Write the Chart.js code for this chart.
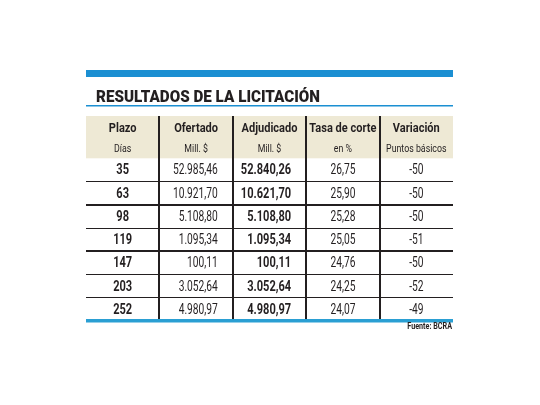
<!DOCTYPE html>
<html lang="es">
<head>
<meta charset="utf-8">
<title>Resultados de la licitación</title>
<script src="https://cdn.jsdelivr.net/npm/chart.js@4.4.1/dist/chart.umd.min.js"></script>
<style>
  html, body { margin: 0; padding: 0; background: #fff; }
  #wrap { width: 540px; height: 405px; }
</style>
</head>
<body>
<div id="wrap"><canvas id="tabla" width="540" height="405"></canvas></div>
<script>
const titulo = 'RESULTADOS DE LA LICITACIÓN';
const fuente = 'Fuente: BCRA';
const columnas = ['Plazo', 'Ofertado', 'Adjudicado', 'Tasa de corte', 'Variación'];
const unidades = ['Días', 'Mill. $', 'Mill. $', 'en %', 'Puntos básicos'];
const plazos = [35, 63, 98, 119, 147, 203, 252];
const ofertado = [52985.46, 10921.70, 5108.80, 1095.34, 100.11, 3052.64, 4980.97];
const adjudicado = [52840.26, 10621.70, 5108.80, 1095.34, 100.11, 3052.64, 4980.97];
const tasaCorte = [26.75, 25.90, 25.28, 25.05, 24.76, 24.25, 24.07];
const variacion = [-50, -50, -50, -51, -50, -52, -49];

const AZUL = '#1b8fd2';
const TINTA = '#231f20';
const BEIGE = '#eee9d5';
const FAM = 'Roboto, "DejaVu Sans Condensed", sans-serif';
const HEADER = 1.82; // alto de la cabecera, en filas

// 52985.46 -> "52.985,46"
function fmt(v, dec) {
  const parts = Math.abs(v).toFixed(dec).split('.');
  const ent = parts[0].replace(/\B(?=(\d{3})+(?!\d))/g, '.');
  return (v < 0 ? '-' : '') + ent + (dec ? ',' + parts[1] : '');
}

// texto estrechado en horizontal (la fuente original es condensada)
function texto(ctx, s, x, y, sx) {
  ctx.save();
  ctx.translate(x, y);
  ctx.scale(sx, 1);
  ctx.fillText(s, 0, 0);
  ctx.restore();
}

const filas = plazos.map((p, i) => [
  String(p),
  fmt(ofertado[i], 2),
  fmt(adjudicado[i], 2),
  fmt(tasaCorte[i], 2),
  String(variacion[i])
]);
const alineacion = ['center', 'right', 'right', 'center', 'center'];
const negrita = [true, false, true, false, false];

const tablaPlugin = {
  id: 'tabla-plugin',
  beforeDraw(chart) {
    const ctx = chart.ctx;
    const { left, right, top } = chart.chartArea;
    const y = chart.scales.y;
    ctx.save();
    ctx.fillStyle = '#fff';
    ctx.fillRect(0, 0, chart.width, chart.height);

    // barra superior
    ctx.fillStyle = AZUL;
    ctx.fillRect(left, top - 46, right - left, 7);

    // titulo
    ctx.fillStyle = TINTA;
    ctx.font = '900 17px ' + FAM;
    ctx.textAlign = 'left';
    ctx.textBaseline = 'alphabetic';
    ctx.fillText(titulo, left + 10, top - 14, 224);

    // linea fina bajo el titulo
    ctx.fillStyle = AZUL;
    ctx.fillRect(left, top - 11, right - left, 1.5);

    // fondo de la cabecera
    ctx.fillStyle = BEIGE;
    const y0 = y.getPixelForValue(-HEADER);
    const y1 = y.getPixelForValue(0);
    ctx.fillRect(left, y0, right - left, y1 - y0);
    ctx.restore();
  },
  afterDraw(chart) {
    const ctx = chart.ctx;
    const x = chart.scales.x;
    const y = chart.scales.y;
    ctx.save();
    ctx.fillStyle = TINTA;

    // cabecera
    ctx.textAlign = 'center';
    ctx.textBaseline = 'alphabetic';
    columnas.forEach((c, col) => {
      const cx = x.getPixelForValue(col + 0.5);
      ctx.font = 'bold 13px ' + FAM;
      texto(ctx, c, cx, y.getPixelForValue(-HEADER) + 16, 0.85);
      ctx.font = '11px ' + FAM;
      texto(ctx, unidades[col], cx, y.getPixelForValue(-HEADER) + 35.5, 0.8);
    });

    // celdas
    ctx.textBaseline = 'middle';
    chart.data.datasets.forEach((ds, col) => {
      const meta = chart.getDatasetMeta(col);
      ctx.font = (negrita[col] ? 'bold ' : '') + '14px ' + FAM;
      ctx.textAlign = alineacion[col];
      meta.data.forEach((pt, row) => {
        const px = alineacion[col] === 'right' ? x.getPixelForValue(col + 1) - 15 : pt.x;
        texto(ctx, filas[row][col], px, pt.y + 1, negrita[col] ? 0.79 : 0.73);
      });
    });

    // fuente
    ctx.font = 'bold 9px ' + FAM;
    ctx.textAlign = 'right';
    ctx.textBaseline = 'alphabetic';
    texto(ctx, fuente, chart.chartArea.right - 1, y.getPixelForValue(7) + 8, 0.8);
    ctx.restore();
  }
};

const ctx = document.getElementById('tabla').getContext('2d');
new Chart(ctx, {
  type: 'scatter',
  data: {
    datasets: columnas.map((c, col) => ({
      label: c,
      data: plazos.map((p, row) => ({ x: col + 0.5, y: row + 0.5 })),
      pointRadius: 0,
      pointHoverRadius: 0
    }))
  },
  options: {
    responsive: false,
    animation: false,
    events: [],
    layout: { padding: { left: 86, right: 87, top: 116, bottom: 84 } },
    plugins: {
      legend: { display: false },
      tooltip: { enabled: false }
    },
    scales: {
      x: {
        type: 'linear',
        min: 0,
        max: columnas.length,
        afterBuildTicks: s => { s.ticks = [1, 2, 3, 4].map(v => ({ value: v })); },
        ticks: { display: false },
        border: { display: false },
        grid: { drawTicks: false, color: TINTA, lineWidth: 2 }
      },
      y: {
        type: 'linear',
        reverse: true,
        min: -HEADER,
        max: plazos.length,
        afterBuildTicks: s => { s.ticks = plazos.map((p, i) => ({ value: i + 1 })); },
        ticks: { display: false },
        border: { display: false },
        grid: {
          drawTicks: false,
          color: c => c.tick && c.tick.value === plazos.length ? '#2a9fd3' : TINTA,
          lineWidth: c => {
            if (!c.tick) return 1;
            if (c.tick.value === plazos.length) return 3.5;
            return (c.tick.value === 2 || c.tick.value === 4) ? 2 : 1;
          }
        }
      }
    }
  },
  plugins: [tablaPlugin]
});
</script>
</body>
</html>
